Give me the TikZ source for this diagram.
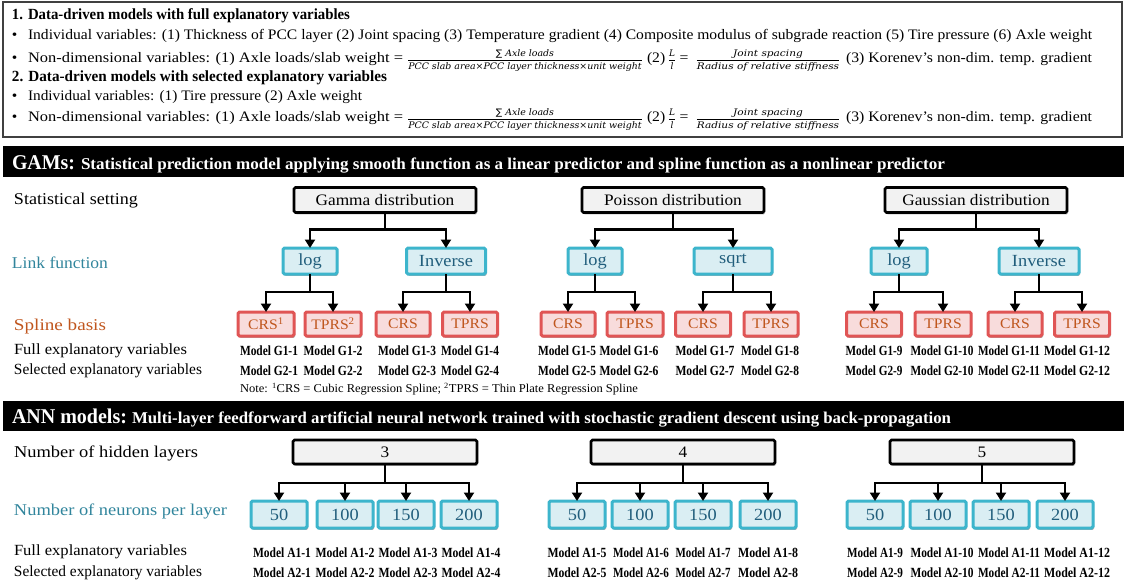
\documentclass[tikz,border=0pt]{standalone}
\usepackage{fontspec}
\usepackage{amsmath}
\usepackage{graphicx}
\setmainfont{Liberation Serif}[FakeStretch=1.08]
\newfontfamily\fracfont{DejaVu Serif}
\newfontfamily\symf{DejaVu Sans}
\usetikzlibrary{arrows.meta,shadows}
\definecolor{tealtxt}{HTML}{31859C}
\definecolor{cyanbd}{HTML}{3DB5CC}
\definecolor{cyanfill}{HTML}{DAEEF3}
\definecolor{boxtxt}{HTML}{215E7C}
\definecolor{redbd}{HTML}{E05555}
\definecolor{redfill}{HTML}{F8DCDC}
\definecolor{browntxt}{HTML}{C0561E}
\definecolor{grayfill}{HTML}{F2F2F2}
\newcommand{\fitw}[2]{\resizebox{#1}{\height}{#2}}
\newcommand{\fnum}[1]{\text{\fontsize{9}{9}\selectfont\fracfont\itshape #1}}
\tikzset{
  every node/.style={inner sep=0pt, outer sep=0pt},
  shadowy/.style={drop shadow={shadow xshift=1.2pt, shadow yshift=-1.8pt, opacity=0.3, fill=black}},
  lbl/.style={anchor=west, font=\fontsize{16.5}{16.5}\selectfont},
  distbox/.style={shadowy, draw=black, line width=2.6pt, fill=grayfill, rounded corners=1.5pt,
    minimum width=182pt, minimum height=25pt, font=\fontsize{16}{16}\selectfont},
  linkbox/.style={shadowy, draw=cyanbd, line width=3pt, fill=cyanfill, rounded corners=1.5pt,
    minimum height=26pt, text=boxtxt, font=\fontsize{17}{17}\selectfont},
  splbox/.style={shadowy, draw=redbd, line width=3pt, fill=redfill, rounded corners=1.5pt,
    minimum height=24pt, text=browntxt, font=\fontsize{14.5}{14.5}\selectfont},
  neubox/.style={linkbox, minimum height=27pt},
  stem/.style={line width=2.8pt},
  conn/.style={line width=2.8pt, -{Triangle[length=8.5pt,width=10pt]}},
  mdl/.style={font=\fontsize{14}{14}\selectfont\bfseries},
  toptxt/.style={font=\fontsize{14.5}{14.5}\selectfont},
}
\begin{document}
\begin{tikzpicture}[x=1pt,y=-1pt]
\useasboundingbox (0,0) rectangle (1127,583);

% ---------- top box ----------
\node[draw=black!75, line width=1.5pt, minimum width=1119pt, minimum height=135pt, anchor=north west] (topbox) at (3,2) {};
\node[anchor=west, font=\fontsize{15.5}{15.5}\selectfont\bfseries] (t1) at (12,16) {\fitw{338pt}{1. Data-driven models with full explanatory variables}};
\node[anchor=west, toptxt] (b1) at (12,36) {•};
\node[anchor=west, toptxt] (t2) at (28,36) {\fitw{1064pt}{Individual variables: (1) Thickness of PCC layer (2) Joint spacing (3) Temperature gradient (4) Composite modulus of subgrade reaction (5) Tire pressure (6) Axle weight}};
\node[anchor=base west, toptxt] (b2) at (12,63) {•};
\node[anchor=base west, toptxt] (t3a) at (28,63) {\fitw{375pt}{Non-dimensional variables: (1) Axle loads/slab weight =}};
\node[anchor=base] (f1) at (525,63) {\fitw{236pt}{$\dfrac{\fnum{{\symf\upshape ∑} Axle loads}}{\fnum{PCC slab area×PCC layer thickness×unit weight}}$}};
\node[anchor=base west, toptxt] (t3b) at (647,63) {(2)};
\node[anchor=base] (ll1) at (672,63) {$\dfrac{\fnum{L}}{\fnum{l}}$};
\node[anchor=base, toptxt] (eq1) at (684,63) {=};
\node[anchor=base] (f2) at (768,63) {\fitw{145pt}{$\dfrac{\fnum{Joint spacing}}{\fnum{Radius of relative stiffness}}$}};
\node[anchor=base west, toptxt] (t3c) at (846,63) {\fitw{246pt}{(3) Korenev’s non-dim. temp. gradient}};

\node[anchor=west, font=\fontsize{15.5}{15.5}\selectfont\bfseries] (t4) at (12,78) {\fitw{375pt}{2. Data-driven models with selected explanatory variables}};
\node[anchor=west, toptxt] (b3) at (12,97) {•};
\node[anchor=west, toptxt] (t5) at (28,97) {\fitw{334pt}{Individual variables: (1) Tire pressure (2) Axle weight}};
\node[anchor=base west, toptxt] (b4) at (12,122) {•};
\node[anchor=base west, toptxt] (t6a) at (28,122) {\fitw{375pt}{Non-dimensional variables: (1) Axle loads/slab weight =}};
\node[anchor=base] (f3) at (525,122) {\fitw{236pt}{$\dfrac{\fnum{{\symf\upshape ∑} Axle loads}}{\fnum{PCC slab area×PCC layer thickness×unit weight}}$}};
\node[anchor=base west, toptxt] (t6b) at (647,122) {(2)};
\node[anchor=base] (ll2) at (672,122) {$\dfrac{\fnum{L}}{\fnum{l}}$};
\node[anchor=base, toptxt] (eq2) at (684,122) {=};
\node[anchor=base] (f4) at (768,122) {\fitw{145pt}{$\dfrac{\fnum{Joint spacing}}{\fnum{Radius of relative stiffness}}$}};
\node[anchor=base west, toptxt] (t6c) at (846,122) {\fitw{246pt}{(3) Korenev’s non-dim. temp. gradient}};

% ---------- GAM bar ----------
\node[fill=black, minimum width=1121pt, minimum height=31pt, anchor=north west] (gbar) at (3,146) {};
\node[anchor=base west, text=white, font=\fontsize{21}{21}\selectfont\bfseries] (gt1) at (12,169) {\fitw{63pt}{GAMs:}};
\node[anchor=base west, text=white, font=\fontsize{16.5}{16.5}\selectfont\bfseries] (gt2) at (81,169) {\fitw{864pt}{Statistical prediction model applying smooth function as a linear predictor and spline function as a nonlinear predictor}};

% ---------- GAM labels ----------
\node[lbl] (l1) at (14,201) {\fitw{124pt}{Statistical setting}};
\node[lbl, text=tealtxt] (l2) at (12,263) {\fitw{96pt}{Link function}};
\node[lbl, text=browntxt] (l3) at (14,327) {\fitw{92pt}{Spline basis}};
\node[lbl, font=\fontsize{15.5}{15.5}\selectfont] (l4) at (14,351) {\fitw{173pt}{Full explanatory variables}};
\node[lbl, font=\fontsize{15.5}{15.5}\selectfont] (l5) at (14,371) {\fitw{188pt}{Selected explanatory variables}};

% ---------- GAM tree ----------
\node[distbox] (gam) at (385,200) {Gamma distribution};
\node[distbox] (poi) at (673,200) {Poisson distribution};
\node[distbox] (gau) at (976,200) {Gaussian distribution};

\node[linkbox, minimum width=54pt] (gl) at (310,261) {log};
\node[linkbox, minimum width=79pt] (gi) at (446,261) {Inverse};
\node[linkbox, minimum width=54pt] (pl) at (595,261) {log};
\node[linkbox, minimum width=78pt] (ps) at (733,261) {sqrt};
\node[linkbox, minimum width=56pt] (ul) at (899,261) {log};
\node[linkbox, minimum width=80pt] (ui) at (1039,261) {Inverse};

\node[splbox, minimum width=56pt] (s1) at (266,324) {CRS\textsuperscript{1}};
\node[splbox, minimum width=56pt] (s2) at (333,324) {TPRS\textsuperscript{2}};
\node[splbox, minimum width=54pt] (s3) at (403,324) {CRS};
\node[splbox, minimum width=55pt] (s4) at (470,324) {TPRS};
\node[splbox, minimum width=54pt] (s5) at (568,324) {CRS};
\node[splbox, minimum width=56pt] (s6) at (635,324) {TPRS};
\node[splbox, minimum width=55pt] (s7) at (703,324) {CRS};
\node[splbox, minimum width=54pt] (s8) at (771,324) {TPRS};
\node[splbox, minimum width=55pt] (s9) at (874,324) {CRS};
\node[splbox, minimum width=56pt] (s10) at (943,324) {TPRS};
\node[splbox, minimum width=54pt] (s11) at (1015,324) {CRS};
\node[splbox, minimum width=55pt] (s12) at (1082,324) {TPRS};

\foreach \p/\a/\b in {gam/gl/gi, poi/pl/ps, gau/ul/ui}{
  \draw[stem] (\p.south) -- ++(0,17) coordinate (\p j);
  \draw[conn] (\p j) -| (\a.north);
  \draw[conn] (\p j) -| (\b.north);
}
\foreach \p/\a/\b in {gl/s1/s2, gi/s3/s4, pl/s5/s6, ps/s7/s8, ul/s9/s10, ui/s11/s12}{
  \draw[stem] (\p.south) -- ++(0,18) coordinate (\p j);
  \draw[conn] (\p j) -| (\a.north);
  \draw[conn] (\p j) -| (\b.north);
}

\foreach \x/\i/\w in {269/1/58,333/2/59,407/3/58,470/4/58,567/5/58,629/6/59,705/7/59,770/8/58,874/9/57,942/10/63,1009/11/62,1077/12/66}{
  \node[mdl] (mga\i) at (\x,351) {\fitw{\w pt}{Model G1-\i}};
  \node[mdl] (mgb\i) at (\x,371) {\fitw{\w pt}{Model G2-\i}};
}
\node[anchor=west, font=\fontsize{12}{12}\selectfont] (note) at (240,389) {\fitw{398pt}{Note: \textsuperscript{1}CRS = Cubic Regression Spline; \textsuperscript{2}TPRS = Thin Plate Regression Spline}};

% ---------- ANN bar ----------
\node[fill=black, minimum width=1121pt, minimum height=30pt, anchor=north west] (abar) at (3,401) {};
\node[anchor=base west, text=white, font=\fontsize{21}{21}\selectfont\bfseries] (at1) at (12,423) {\fitw{115pt}{ANN models:}};
\node[anchor=base west, text=white, font=\fontsize{16.5}{16.5}\selectfont\bfseries] (at2) at (132,423) {\fitw{819pt}{Multi-layer feedforward artificial neural network trained with stochastic gradient descent using back-propagation}};

% ---------- ANN labels ----------
\node[lbl] (m1) at (14,453) {\fitw{184pt}{Number of hidden layers}};
\node[lbl, text=tealtxt] (m2) at (14,511) {\fitw{213pt}{Number of neurons per layer}};
\node[lbl, font=\fontsize{15.5}{15.5}\selectfont] (m3) at (14,552) {\fitw{173pt}{Full explanatory variables}};
\node[lbl, font=\fontsize{15.5}{15.5}\selectfont] (m4) at (14,573) {\fitw{188pt}{Selected explanatory variables}};

% ---------- ANN tree ----------
\node[distbox, minimum width=184pt, minimum height=24pt] (h3) at (385,452) {3};
\node[distbox, minimum width=184pt, minimum height=24pt] (h4) at (683,452) {4};
\node[distbox, minimum width=184pt, minimum height=24pt] (h5) at (982,452) {5};

\foreach \x/\i/\t in {279/1/50,345/2/100,406/3/150,469/4/200,577/5/50,640/6/100,703/7/150,768/8/200,875/9/50,938/10/100,1001/11/150,1065/12/200}{
  \node[neubox, minimum width=56pt] (n\i) at (\x,514.5) {\t};
}
\foreach \x/\i/\w in {282/1/58,345/2/59,408/3/59,471/4/59,577/5/59,641/6/56,703/7/55,768/8/60,875/9/56,942/10/63,1009/11/62,1077/12/66}{
  \node[mdl] (maa\i) at (\x,553) {\fitw{\w pt}{Model A1-\i}};
  \node[mdl] (mab\i) at (\x,573) {\fitw{\w pt}{Model A2-\i}};
}
\foreach \p/\a/\b/\c/\d in {h3/n1/n2/n3/n4, h4/n5/n6/n7/n8, h5/n9/n10/n11/n12}{
  \draw[stem] (\p.south) -- ++(0,19) coordinate (\p j);
  \draw[conn] (\p j) -| (\a.north);
  \draw[conn] (\p j) -| (\b.north);
  \draw[conn] (\p j) -| (\c.north);
  \draw[conn] (\p j) -| (\d.north);
}
\end{tikzpicture}
\end{document}
